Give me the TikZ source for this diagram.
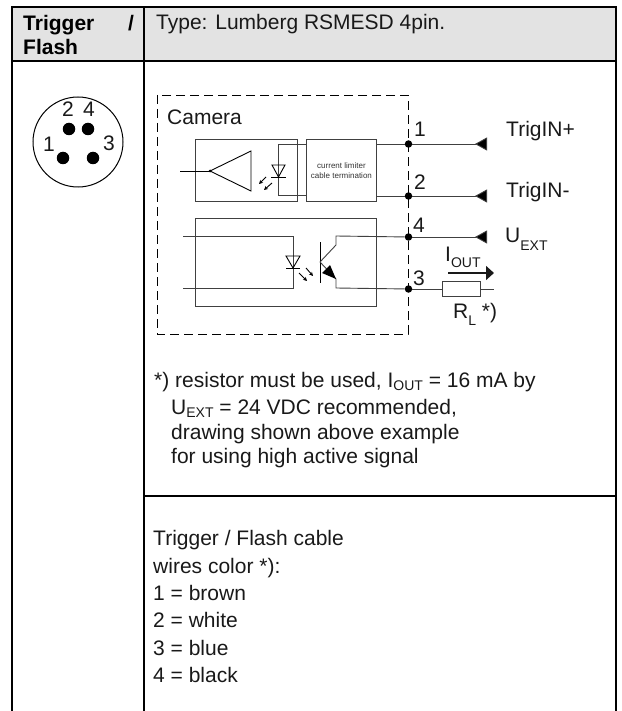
\documentclass[tikz,border=0pt]{standalone}
\usepackage{fontspec}
\setmainfont{Liberation Sans}
\usetikzlibrary{arrows.meta,positioning}
\newcommand{\subtxt}[2][3.5pt]{\raisebox{-#1}{\fontsize{14}{14}\selectfont #2}}
\tikzstyle{frame}=[
	draw=black,
	line width=2pt
]
\tikzstyle{wire}=[
	draw=black!75,
	line width=0.9pt
]
\tikzstyle{unit}=[
	wire,
	rectangle,
	inner sep=0pt,
	anchor=north west
]
\tikzstyle{joint}=[
	circle,
	fill=black,
	inner sep=0pt,
	minimum size=7.5pt
]
\tikzstyle{pin}=[
	circle,
	fill=black,
	inner sep=0pt,
	minimum size=12.5pt
]
\tikzstyle{txt}=[
	anchor=base west,
	inner sep=0pt,
	text=black!90,
	font=\fontsize{21}{21}\selectfont
]
\tikzstyle{headtxt}=[
	txt,
	text=black,
	font=\fontsize{21}{21}\selectfont\bfseries
]
\tikzstyle{endwire}=[
	wire,
	-{Triangle[reversed,length=12pt,width=13pt,fill=black]}
]
\tikzstyle{light}=[
	draw=black,
	line width=0.9pt,
	-{Stealth[length=4pt,width=4pt]}
]
\begin{document}
\begin{tikzpicture}[x=1pt,y=-1pt]
\useasboundingbox (0,0) rectangle (621,711);
% table
\fill [black!11] (12,7) rectangle (616,61);
\coordinate (topL) at (12,7);
\coordinate (topM) at (144,7);
\coordinate (topR) at (616,7);
\coordinate (headL) at (12,61);
\coordinate (headR) at (616,61);
\coordinate (rowM) at (144,496);
\coordinate (rowR) at (616,496);
\coordinate (endL) at (12,711);
\coordinate (endM) at (144,711);
\coordinate (endR) at (616,711);
\draw [frame] (endL) -- (topL) -- (topR) -- (endR);
\draw [frame] (topM) -- (endM);
\draw [frame] (headL) -- (headR);
\draw [frame] (rowM) -- (rowR);
\node [headtxt] (headA) at (23,31) {Trigger};
\node [headtxt] (headB) at (128,31) {/};
\node [headtxt] (headC) at (23,55) {Flash};
\node [txt] (type) at (156,30) {Type: Lumberg RSMESD 4pin.};
% connector
\node [circle,draw=black,line width=1pt,minimum size=90pt,inner sep=0pt] (plug) at (78,142) {};
\node [pin] (pinB) at (69,129) {};
\node [pin] (pinD) at (88,129) {};
\node [pin] (pinA) at (63,158) {};
\node [pin] (pinC) at (93,158) {};
\node [txt,anchor=base] (numB) at (68,117) {2};
\node [txt,anchor=base] (numD) at (89,117) {4};
\node [txt,anchor=base] (numA) at (49,152) {1};
\node [txt,anchor=base] (numC) at (109,151) {3};
% camera
\draw [wire,draw=black,dash pattern=on 9pt off 5pt] (157,95) rectangle (408,334);
\node [txt] (camera) at (167,125) {Camera};
\node [unit,minimum width=102pt,minimum height=62pt] (rx) at (195,139) {};
\node [unit,minimum width=70pt,minimum height=62pt,align=center,inner sep=0pt,
	font=\fontsize{8}{10}\selectfont,text=black!80] (limit) at (306,139) {current limiter\\cable termination};
\node [unit,minimum width=181pt,minimum height=88pt] (tx) at (195,218) {};
% terminals
\node [joint] (termA) at (408.5,144) {};
\node [joint] (termB) at (408.5,196) {};
\node [joint] (termD) at (408.5,237) {};
\node [joint] (termC) at (408.5,289) {};
\node [txt] (labA) at (414,137) {1};
\node [txt] (labB) at (414,190) {2};
\node [txt] (labD) at (413,233) {4};
\node [txt] (labC) at (413,285) {3};
\coordinate (endA) at (487,144);
\coordinate (endB) at (487,196);
\coordinate (endD) at (487,237);
\draw [endwire] (termA) -- (endA);
\draw [endwire] (termB) -- (endB);
\draw [endwire] (termD) -- (endD);
\node [txt] (trigP) at (506,137) {TrigIN+};
\node [txt] (trigM) at (506,197) {TrigIN-};
\node [txt] (uext) at (505,242) {U\subtxt[8pt]{EXT}};
% limiter side
\coordinate (inA) at (278,144);
\coordinate (inB) at (278,195);
\draw [wire] (termA) -- (limit.east |- termA);
\draw [wire] (termB) -- (limit.east |- termB);
\draw [wire] (limit.west |- inA) -- (inA) -- (inB) -- (limit.west |- inB);
% amplifier
\coordinate (ampTip) at (210,171);
\coordinate (ampIn) at (180,171);
\draw [wire,draw=black] (ampTip) -- (251,151) -- (251,191) -- cycle;
\draw [wire,draw=black] (ampIn) -- (ampTip);
\fill (ampTip) circle (1.5pt);
% receiver diode
\draw [wire,draw=black] (272,165) -- (285,165) -- (278.5,177) -- cycle;
\draw [wire,draw=black] (271,177) -- (286,177);
\draw [light] (266,177) -- (259,184);
\draw [light] (272,183) -- (264,190);
% sender side
\coordinate (ledA) at (293,236);
\coordinate (ledB) at (293,288);
\coordinate (ledIA) at (183,236);
\coordinate (ledIB) at (183,288);
\draw [wire] (ledIA) -- (ledA) -- (ledB) -- (ledIB);
\draw [wire,draw=black] (286,256) -- (300,256) -- (293,268) -- cycle;
\draw [wire,draw=black] (286,268) -- (300,268);
\draw [light] (299,273) -- (307,281);
\draw [light] (306,268) -- (313,276);
% transistor
\coordinate (base) at (320,262);
\coordinate (coll) at (336,245);
\coordinate (emit) at (336,279);
\draw [wire,draw=black] (320,242) -- (320,283);
\draw [wire] (base) -- (coll) -- (336,236) -- (termD);
\draw [wire] (base) -- (emit) -- (336,288) -- (termC);
\fill (336,279) -- (322,273) -- (330,265) -- cycle;
% resistor
\node [wire,rectangle,fill=white,minimum width=38pt,minimum height=15pt,inner sep=0pt] (load) at (461,289) {};
\coordinate (loadEnd) at (494,289);
\draw [wire] (termC) -- (load);
\draw [wire] (load) -- (loadEnd);
\coordinate (flowA) at (448,273);
\coordinate (flowB) at (494,273);
\draw [draw=black!90,line width=1.5pt,-{Triangle[length=8pt,width=14pt]}] (flowA) -- (flowB);
\node [txt] (iout) at (445,261) {I\subtxt[6pt]{OUT}};
\node [txt] (rl) at (453,318) {R\subtxt[7pt]{L} *)};
% notes
\node [txt] (noteA) at (154,387) {*) resistor must be used, I\subtxt{OUT} = 16 mA by};
\node [txt] (noteB) at (171,414) {U\subtxt{EXT} = 24 VDC recommended,};
\node [txt] (noteC) at (171,439) {drawing shown above example};
\node [txt] (noteD) at (171,463) {for using high active signal};
\node [txt] (cableA) at (153,545) {Trigger / Flash cable};
\node [txt] (cableB) at (153,573) {wires color *):};
\node [txt] (cableC) at (153,600) {1 = brown};
\node [txt] (cableD) at (153,627) {2 = white};
\node [txt] (cableE) at (153,655) {3 = blue};
\node [txt] (cableF) at (153,682) {4 = black};
\end{tikzpicture}
\end{document}
